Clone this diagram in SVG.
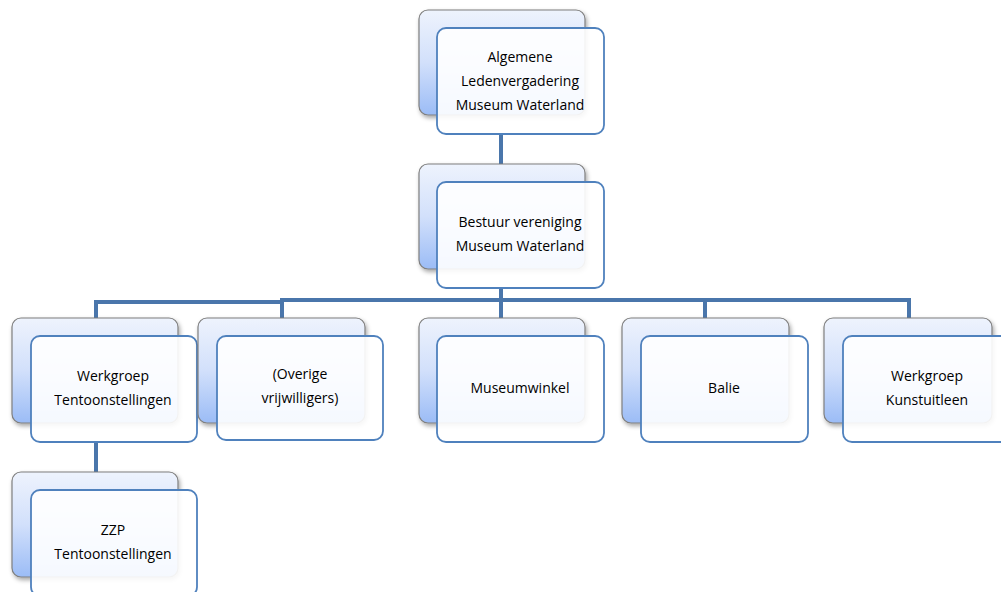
<svg xmlns="http://www.w3.org/2000/svg" width="1001" height="592" viewBox="0 0 1001 592">
<defs>
<linearGradient id="g" x1="0" y1="0" x2="0" y2="1">
<stop offset="0" stop-color="#eef3fd"/>
<stop offset="0.5" stop-color="#d2e0fb"/>
<stop offset="1" stop-color="#9bbcf6"/>
</linearGradient>
<filter id="sh" x="-10%" y="-10%" width="125%" height="130%">
<feDropShadow dx="1.5" dy="2.5" stdDeviation="2" flood-color="#000" flood-opacity="0.35"/>
</filter>
</defs>
<style>
.back{fill:url(#g);stroke:#7f7f7f;stroke-width:1.2;filter:url(#sh)}
.front{fill:#ffffff;fill-opacity:0.9;stroke:#4f81bd;stroke-width:1.8}
.con{fill:none;stroke:#4a76ab;stroke-width:4}
text{font-family:"Open Sans","Liberation Sans",sans-serif;font-size:14px;fill:#000;text-anchor:middle}
</style>
<rect width="1001" height="592" fill="#fff"/>
<g id="connectors">
<path class="con" d="M501 134V166"/>
<path class="con" d="M501 287V300M96 318V302H282M282 318V300H909V318M501 300V318M705 300V318"/>
<path class="con" d="M96 442V473"/>
</g>
<g id="n-alv">
<rect class="back" x="419" y="10" width="166" height="105" rx="9"/>
<rect class="front" x="437" y="28" width="167" height="106" rx="9"/>
<text x="520" y="62">Algemene</text>
<text x="520" y="86">Ledenvergadering</text>
<text x="520" y="110">Museum Waterland</text>
</g>
<g id="n-bestuur">
<rect class="back" x="419" y="164" width="166" height="105" rx="9"/>
<rect class="front" x="437" y="182" width="167" height="106" rx="9"/>
<text x="520" y="227">Bestuur vereniging</text>
<text x="520" y="251">Museum Waterland</text>
</g>
<g id="n-werkgroep-t">
<rect class="back" x="12" y="318" width="166" height="105" rx="9"/>
<rect class="front" x="31" y="336" width="166" height="106" rx="9"/>
<text x="113" y="381">Werkgroep</text>
<text x="113" y="405">Tentoonstellingen</text>
</g>
<g id="n-overige">
<rect class="back" x="198" y="318" width="167" height="105" rx="9"/>
<rect class="front" x="217" y="336" width="166" height="104" rx="9"/>
<text x="300" y="379">(Overige</text>
<text x="300" y="403">vrijwilligers)</text>
</g>
<g id="n-museumwinkel">
<rect class="back" x="419" y="318" width="166" height="105" rx="9"/>
<rect class="front" x="437" y="336" width="167" height="106" rx="9"/>
<text x="520" y="393">Museumwinkel</text>
</g>
<g id="n-balie">
<rect class="back" x="622" y="318" width="167" height="105" rx="9"/>
<rect class="front" x="641" y="336" width="167" height="106" rx="9"/>
<text x="724" y="393">Balie</text>
</g>
<g id="n-werkgroep-k">
<rect class="back" x="824" y="318" width="168" height="105" rx="9"/>
<rect class="front" x="843" y="336" width="167" height="106" rx="9"/>
<text x="927" y="381">Werkgroep</text>
<text x="927" y="405">Kunstuitleen</text>
</g>
<g id="n-zzp">
<rect class="back" x="12" y="472" width="166" height="105" rx="9"/>
<rect class="front" x="31" y="490" width="166" height="106" rx="9"/>
<text x="113" y="535">ZZP</text>
<text x="113" y="559">Tentoonstellingen</text>
</g>
</svg>
